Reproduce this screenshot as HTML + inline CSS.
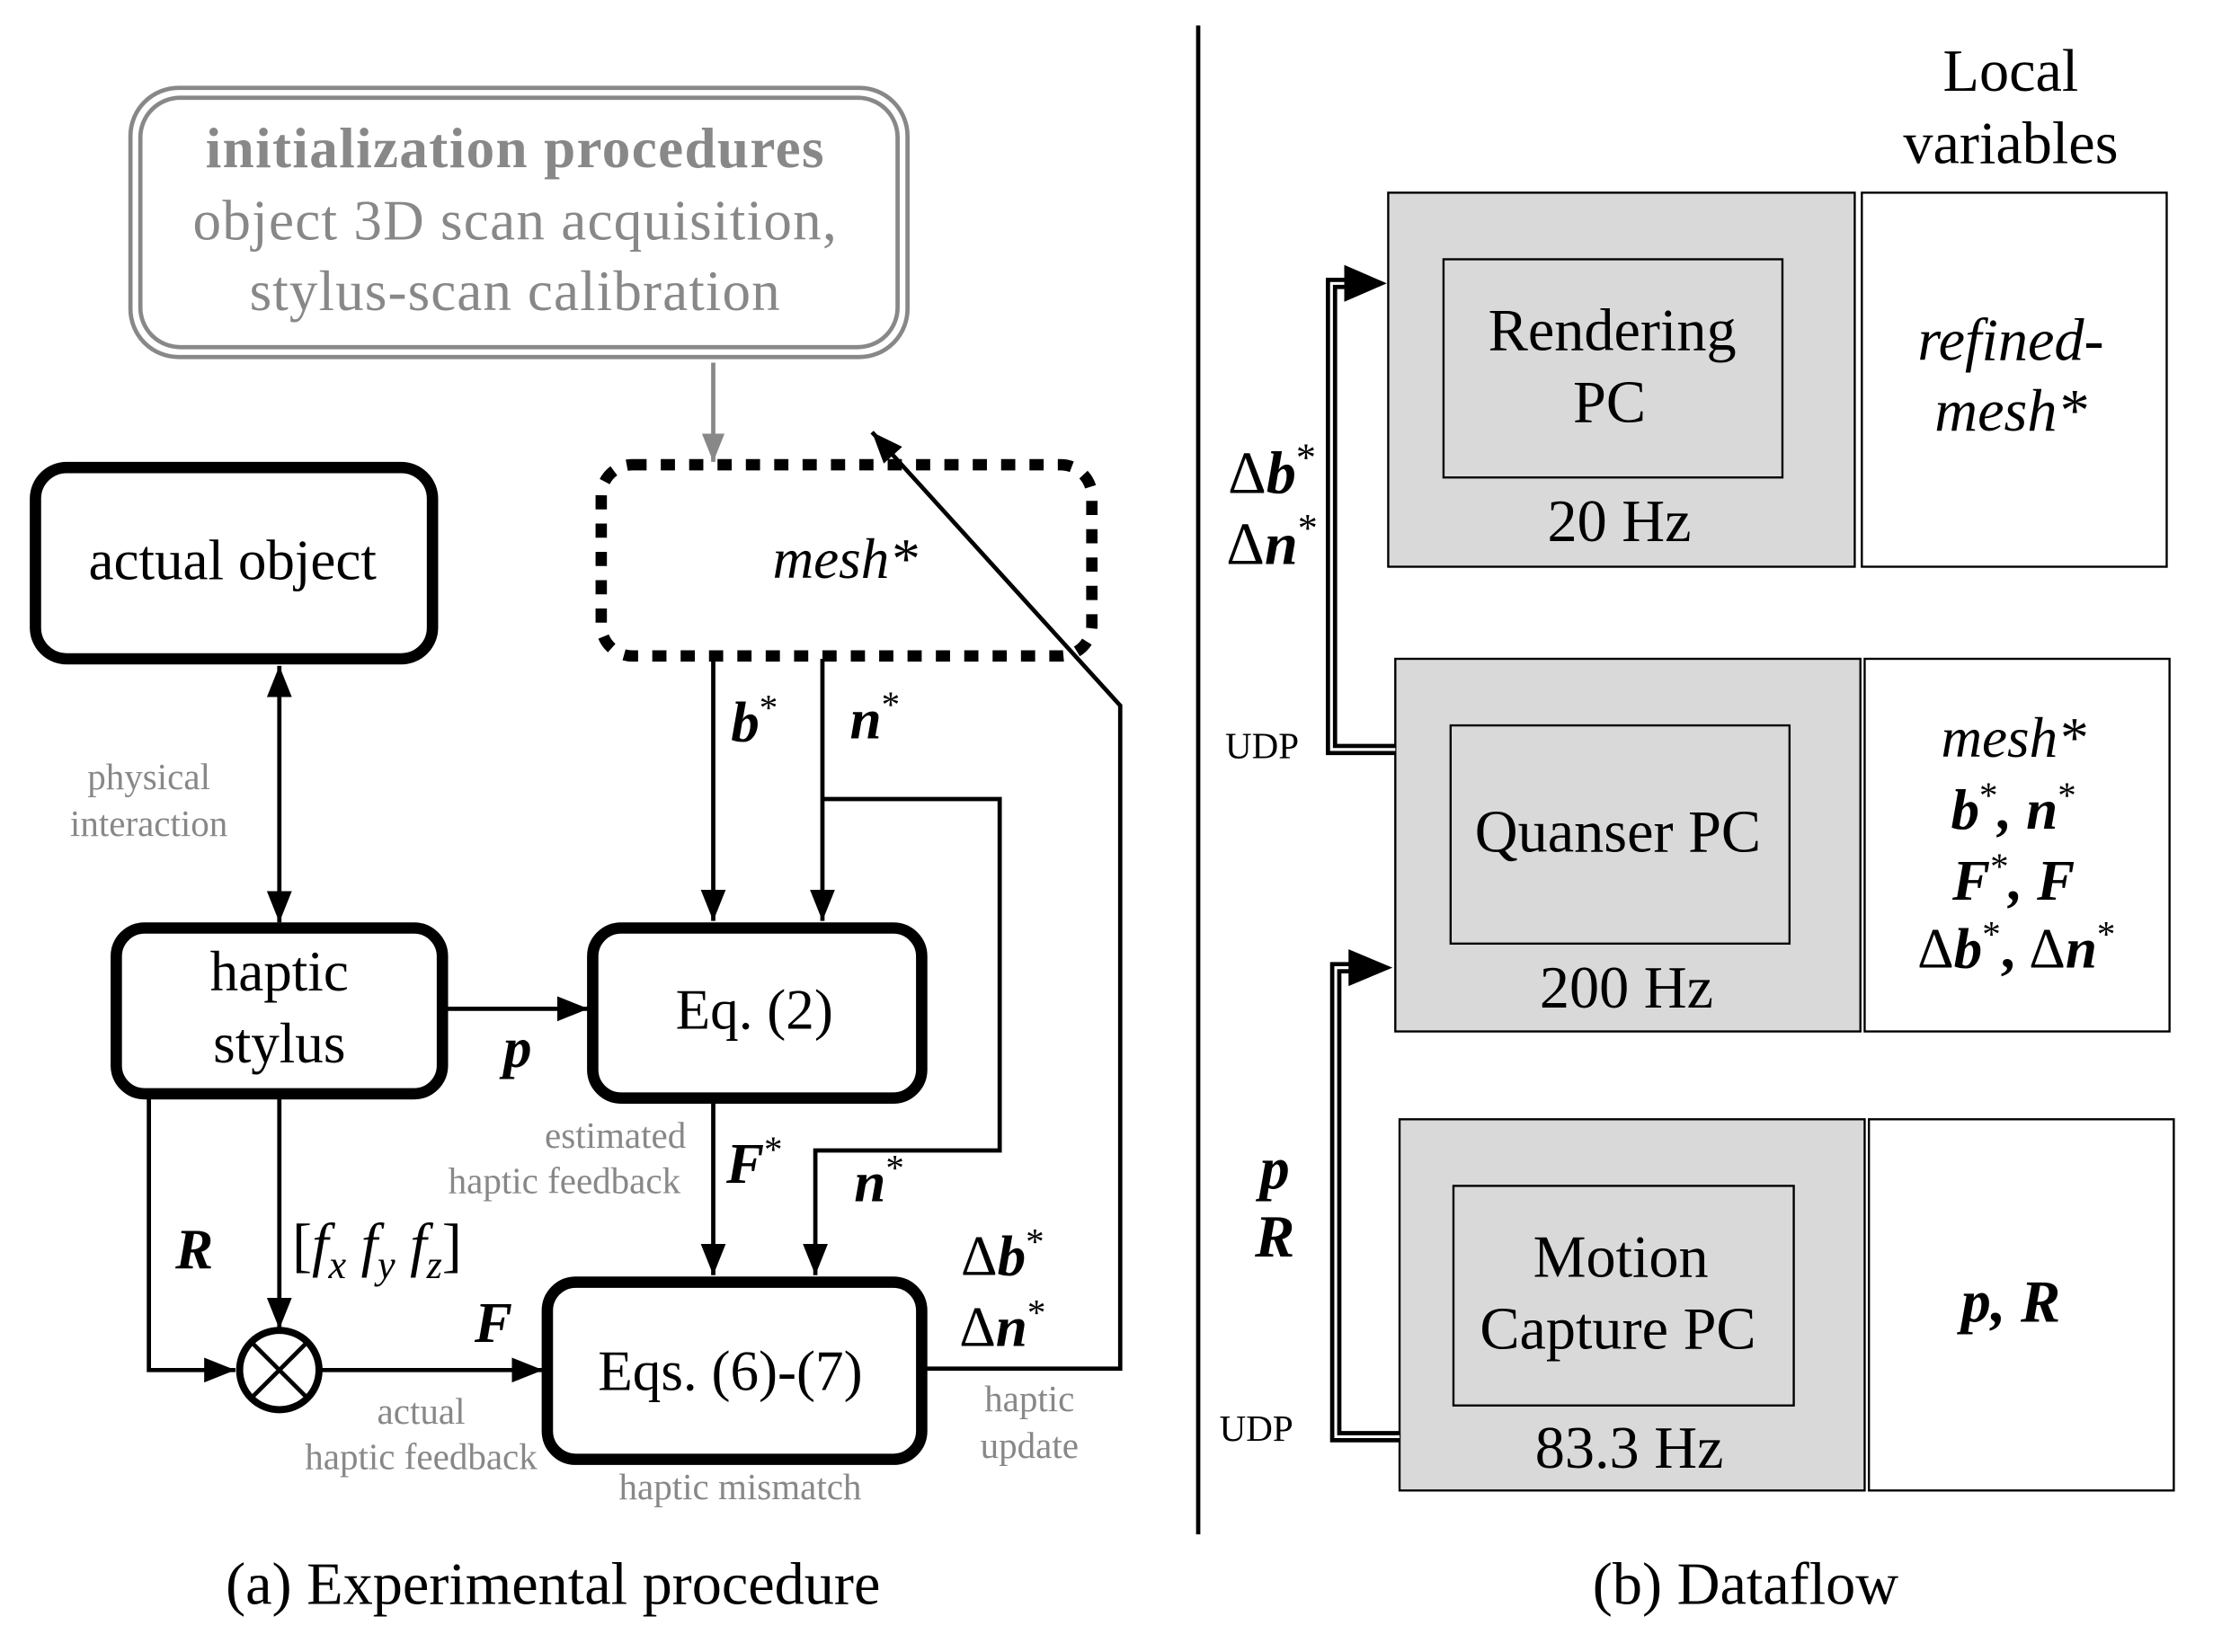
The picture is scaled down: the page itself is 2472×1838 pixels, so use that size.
<!DOCTYPE html>
<html><head><meta charset="utf-8"><style>
html,body{margin:0;padding:0;background:#fff;}
svg{display:block;}
text{font-family:"Liberation Serif",serif;}
</style></head><body>
<svg width="2472" height="1838" viewBox="0 0 1567 1166" preserveAspectRatio="none" xmlns="http://www.w3.org/2000/svg">
<defs>
<marker id="ahs" viewBox="0 0 20 16" markerWidth="22" markerHeight="18" refX="20" refY="8" orient="auto-start-reverse" markerUnits="userSpaceOnUse"><path d="M0,0 L20,8 L0,16 Z" fill="#000"/></marker>
<marker id="ahg" viewBox="0 0 20 16" markerWidth="20" markerHeight="16" refX="20" refY="8" orient="auto" markerUnits="userSpaceOnUse"><path d="M0,0 L20,8 L0,16 Z" fill="#888"/></marker>
</defs>

<rect x="92" y="62" width="548" height="190" rx="34" fill="none" stroke="#888" stroke-width="3"/>
<rect x="99" y="69" width="534" height="176" rx="28" fill="none" stroke="#888" stroke-width="3"/>
<text x="363" y="118" font-size="40" font-weight="bold" fill="#888" text-anchor="middle" textLength="436">initialization procedures</text>
<text x="363" y="169" font-size="40" fill="#888" text-anchor="middle" textLength="454">object 3D scan acquisition,</text>
<text x="363" y="219" font-size="40" fill="#888" text-anchor="middle" textLength="374">stylus-scan calibration</text>
<line x1="503" y1="256" x2="503" y2="326" stroke="#888" stroke-width="3" marker-end="url(#ahg)"/>

<rect x="424" y="328" width="346" height="135" rx="22" fill="none" stroke="#000" stroke-width="8" stroke-dasharray="10,10"/>
<text x="596" y="408" font-size="40" font-style="italic" text-anchor="middle">mesh*</text>

<rect x="25" y="330" width="280" height="135" rx="22" fill="none" stroke="#000" stroke-width="8"/>
<text x="164" y="409" font-size="40" text-anchor="middle">actual object</text>
<line x1="197" y1="470" x2="197" y2="651" stroke="#000" stroke-width="3" marker-start="url(#ahs)" marker-end="url(#ahs)"/>
<text x="105" y="557" font-size="26" fill="#888" text-anchor="middle">physical</text>
<text x="105" y="590" font-size="26" fill="#888" text-anchor="middle">interaction</text>

<rect x="82" y="655" width="230" height="117" rx="20" fill="none" stroke="#000" stroke-width="8"/>
<text x="197" y="699" font-size="40" text-anchor="middle">haptic</text>
<text x="197" y="750" font-size="40" text-anchor="middle">stylus</text>

<rect x="418" y="655" width="232" height="120" rx="20" fill="none" stroke="#000" stroke-width="8"/>
<text x="532" y="726" font-size="40" text-anchor="middle">Eq. (2)</text>
<line x1="314" y1="712" x2="415" y2="712" stroke="#000" stroke-width="3" marker-end="url(#ahs)"/>
<text x="365" y="753" font-size="40" font-weight="bold" font-style="italic" text-anchor="middle">p</text>

<line x1="503" y1="465" x2="503" y2="650" stroke="#000" stroke-width="3" marker-end="url(#ahs)"/>
<text x="532" y="523" font-size="40" font-weight="bold" font-style="italic" text-anchor="middle">b<tspan font-size="26" dy="-15" font-weight="normal" font-style="normal">*</tspan></text>
<line x1="580" y1="465" x2="580" y2="650" stroke="#000" stroke-width="3" marker-end="url(#ahs)"/>
<text x="617" y="521" font-size="40" font-weight="bold" font-style="italic" text-anchor="middle">n<tspan font-size="26" dy="-15" font-weight="normal" font-style="normal">*</tspan></text>
<polyline points="580,564 705,564 705,812 575,812 575,900" fill="none" stroke="#000" stroke-width="3" marker-end="url(#ahs)"/>
<text x="620" y="848" font-size="40" font-weight="bold" font-style="italic" text-anchor="middle">n<tspan font-size="26" dy="-15" font-weight="normal" font-style="normal">*</tspan></text>

<line x1="503" y1="777" x2="503" y2="900" stroke="#000" stroke-width="3" marker-end="url(#ahs)"/>
<text x="532" y="835" font-size="40" font-weight="bold" font-style="italic" text-anchor="middle">F<tspan font-size="26" dy="-15" font-weight="normal" font-style="normal">*</tspan></text>
<text x="434" y="810" font-size="26" fill="#888" text-anchor="middle">estimated</text>
<text x="398" y="842" font-size="26" fill="#888" text-anchor="middle">haptic  feedback</text>

<rect x="386" y="905" width="264" height="125" rx="20" fill="none" stroke="#000" stroke-width="8"/>
<text x="515" y="981" font-size="40" text-anchor="middle">Eqs. (6)-(7)</text>
<text x="522" y="1058" font-size="26" fill="#888" text-anchor="middle">haptic  mismatch</text>

<polyline points="105,773 105,967 166,967" fill="none" stroke="#000" stroke-width="3" marker-end="url(#ahs)"/>
<text x="137" y="895" font-size="40" font-weight="bold" font-style="italic" text-anchor="middle">R</text>
<line x1="197" y1="773" x2="197" y2="938" stroke="#000" stroke-width="3" marker-end="url(#ahs)"/>
<text x="206" y="893" font-size="42">[<tspan font-style="italic">f</tspan><tspan font-size="28" dy="9" font-style="italic">x</tspan><tspan dy="-9" font-style="italic"> f</tspan><tspan font-size="28" dy="9" font-style="italic">y</tspan><tspan dy="-9" font-style="italic"> f</tspan><tspan font-size="28" dy="9" font-style="italic">z</tspan><tspan dy="-9">]</tspan></text>
<circle cx="197" cy="967" r="28" fill="none" stroke="#000" stroke-width="5"/>
<line x1="177" y1="947" x2="217" y2="987" stroke="#000" stroke-width="3"/>
<line x1="217" y1="947" x2="177" y2="987" stroke="#000" stroke-width="3"/>
<line x1="226" y1="967" x2="383" y2="967" stroke="#000" stroke-width="3" marker-end="url(#ahs)"/>
<text x="348" y="947" font-size="40" font-weight="bold" font-style="italic" text-anchor="middle">F</text>
<text x="297" y="1005" font-size="26" fill="#888" text-anchor="middle">actual</text>
<text x="297" y="1037" font-size="26" fill="#888" text-anchor="middle">haptic  feedback</text>

<polyline points="652,966 790,966 790,498 615,305" fill="none" stroke="#000" stroke-width="3" marker-end="url(#ahs)"/>
<text x="707" y="900" font-size="40" text-anchor="middle">Δ<tspan font-weight="bold" font-style="italic">b</tspan><tspan font-size="26" dy="-15">*</tspan></text>
<text x="707" y="950" font-size="40" text-anchor="middle">Δ<tspan font-weight="bold" font-style="italic">n</tspan><tspan font-size="26" dy="-15">*</tspan></text>
<text x="726" y="996" font-size="26" fill="#888" text-anchor="middle">haptic</text>
<text x="726" y="1029" font-size="26" fill="#888" text-anchor="middle">update</text>

<text x="390" y="1132" font-size="42" text-anchor="middle">(a) Experimental procedure</text>

<line x1="845" y1="18" x2="845" y2="1083" stroke="#000" stroke-width="3"/>

<text x="1418" y="64" font-size="42" text-anchor="middle">Local</text>
<text x="1418" y="115" font-size="42" text-anchor="middle">variables</text>

<rect x="979" y="136" width="329" height="264" fill="#d9d9d9" stroke="#000" stroke-width="1.5"/>
<rect x="1018" y="183" width="239" height="154" fill="#d9d9d9" stroke="#000" stroke-width="1.5"/>
<text x="1137" y="247" font-size="42" text-anchor="middle">Rendering</text>
<text x="1135" y="298" font-size="42" text-anchor="middle">PC</text>
<text x="1142" y="382" font-size="42" text-anchor="middle">20 Hz</text>
<rect x="1313" y="136" width="215" height="264" fill="#fff" stroke="#000" stroke-width="1.5"/>
<text x="1418" y="254" font-size="42" font-style="italic" text-anchor="middle">refined-</text>
<text x="1418" y="304" font-size="42" font-style="italic" text-anchor="middle">mesh*</text>

<rect x="984" y="465" width="328" height="263" fill="#d9d9d9" stroke="#000" stroke-width="1.5"/>
<rect x="1023" y="512" width="239" height="154" fill="#d9d9d9" stroke="#000" stroke-width="1.5"/>
<text x="1141" y="601" font-size="42" text-anchor="middle">Quanser PC</text>
<text x="1147" y="711" font-size="42" text-anchor="middle">200 Hz</text>
<rect x="1315" y="465" width="215" height="263" fill="#fff" stroke="#000" stroke-width="1.5"/>
<text x="1420" y="534" font-size="40" font-style="italic" text-anchor="middle">mesh*</text>
<text x="1420" y="585" font-size="40" font-weight="bold" font-style="italic" text-anchor="middle">b<tspan font-size="26" dy="-15" font-weight="normal" font-style="normal">*</tspan><tspan dy="15">, n</tspan><tspan font-size="26" dy="-15" font-weight="normal" font-style="normal">*</tspan></text>
<text x="1420" y="635" font-size="40" font-weight="bold" font-style="italic" text-anchor="middle">F<tspan font-size="26" dy="-15" font-weight="normal" font-style="normal">*</tspan><tspan dy="15">, F</tspan></text>
<text x="1422" y="683" font-size="40" text-anchor="middle">Δ<tspan font-weight="bold" font-style="italic">b</tspan><tspan font-size="26" dy="-15">*</tspan><tspan dy="15" font-weight="bold">, </tspan>Δ<tspan font-weight="bold" font-style="italic">n</tspan><tspan font-size="26" dy="-15">*</tspan></text>

<rect x="987" y="790" width="328" height="262" fill="#d9d9d9" stroke="#000" stroke-width="1.5"/>
<rect x="1025" y="837" width="240" height="155" fill="#d9d9d9" stroke="#000" stroke-width="1.5"/>
<text x="1143" y="901" font-size="42" text-anchor="middle">Motion</text>
<text x="1141" y="952" font-size="42" text-anchor="middle">Capture PC</text>
<text x="1149" y="1036" font-size="42" text-anchor="middle">83.3 Hz</text>
<rect x="1318" y="790" width="215" height="262" fill="#fff" stroke="#000" stroke-width="1.5"/>
<text x="1418" y="933" font-size="42" font-weight="bold" font-style="italic" text-anchor="middle">p, R</text>

<polyline points="984,529 939,529 939,200 960,200" fill="none" stroke="#000" stroke-width="8"/>
<polyline points="984,529 939,529 939,200 960,200" fill="none" stroke="#fff" stroke-width="2"/>
<path d="M948,187 L978,200 L948,213 Z" fill="#000"/>
<text x="897" y="348" font-size="42" text-anchor="middle">Δ<tspan font-weight="bold" font-style="italic">b</tspan><tspan font-size="28" dy="-16">*</tspan></text>
<text x="897" y="398" font-size="42" text-anchor="middle">Δ<tspan font-weight="bold" font-style="italic">n</tspan><tspan font-size="28" dy="-16">*</tspan></text>
<text x="890" y="535" font-size="26" text-anchor="middle">UDP</text>

<polyline points="987,1014 942,1014 942,683 963,683" fill="none" stroke="#000" stroke-width="8"/>
<polyline points="987,1014 942,1014 942,683 963,683" fill="none" stroke="#fff" stroke-width="2"/>
<path d="M951,670 L982,683 L951,696 Z" fill="#000"/>
<text x="899" y="839" font-size="42" font-weight="bold" font-style="italic" text-anchor="middle">p</text>
<text x="899" y="887" font-size="42" font-weight="bold" font-style="italic" text-anchor="middle">R</text>
<text x="886" y="1017" font-size="26" text-anchor="middle">UDP</text>

<text x="1231" y="1132" font-size="42" text-anchor="middle">(b) Dataflow</text>
</svg>
</body></html>
